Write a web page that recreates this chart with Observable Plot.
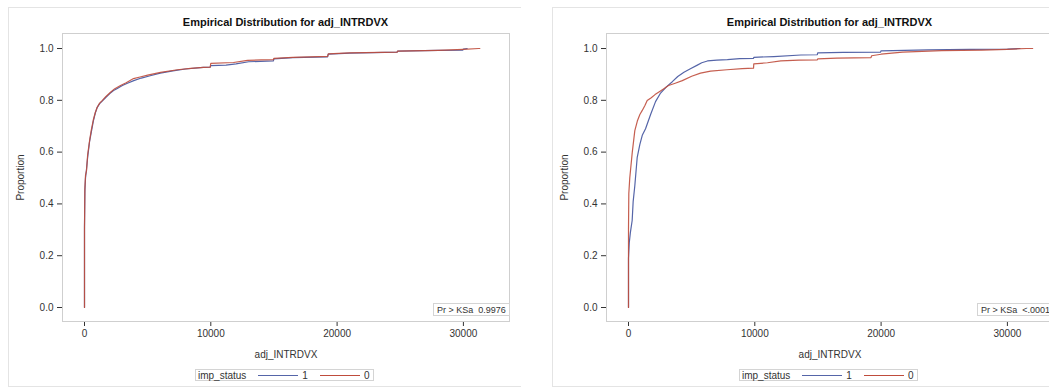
<!DOCTYPE html>
<html>
<head>
<meta charset="utf-8">
<script src="https://cdn.jsdelivr.net/npm/d3@7"></script>
<script src="https://cdn.jsdelivr.net/npm/@observablehq/plot@0.6"></script>
<style>
  html, body { margin: 0; padding: 0; background: #fff; }
  html { overflow: hidden; }
  body { width: 1049px; height: 388px; overflow: hidden; position: relative; font-family: "Liberation Sans", Arial, sans-serif; }
  .panel { position: absolute; top: 7px; height: 380px; border-top: 1px solid #e4e4e4; border-left: 1px solid #e4e4e4; border-bottom: 1px solid #e4e4e4; box-sizing: border-box; }
  .title { position: absolute; font-weight: bold; font-size: 11px; color: #111; white-space: nowrap; transform: translateX(-50%); }
  .chart { position: absolute; width: 512px; }
  .chart svg { max-width: none !important; }
  .legend { position: absolute; border: 1px solid #d4d4d4; height: 12px; font-size: 10px; color: #333; display: flex; align-items: center; padding: 0 4px 0 2px; box-sizing: border-box; white-space: nowrap; }
  .legend .sw { display: inline-block; width: 40px; height: 0; border-top: 1px solid; margin: 0 4px 0 12px; }
  .ks { position: absolute; border: 1px solid #d4d4d4; height: 13px; font-size: 9px; color: #333; display: flex; align-items: center; padding: 0 3px; box-sizing: border-box; white-space: pre; background: #fff; }
</style>
</head>
<body>
<script>
// ---- data ----
const titleText = "Empirical Distribution for adj_INTRDVX";
const xTicks = [0, 10000, 20000, 30000];
const yTicks = [0, 0.2, 0.4, 0.6, 0.8, 1.0];
const groups = ["1", "0"];
const ksLabels = ["Pr > KSa  0.9976", "Pr > KSa  <.0001"];

// Left panel, imp_status = 1
const leftX1 = [0, 0, 30, 80, 150, 250, 400, 550, 700, 850, 1000, 1200, 1400, 1700, 2000, 2300, 2600, 3000, 3400, 3900, 4500, 5200, 6000, 7000, 8000, 9400, 9950, 10000, 11200, 12000, 13000, 14950, 15000, 16500, 19250, 19300, 21000, 24750, 24800, 28000, 29950, 30000, 30300];
const leftP1 = [0, 0.31, 0.45, 0.50, 0.53, 0.58, 0.64, 0.68, 0.72, 0.75, 0.772, 0.787, 0.797, 0.812, 0.826, 0.838, 0.846, 0.857, 0.866, 0.876, 0.886, 0.895, 0.905, 0.914, 0.921, 0.927, 0.928, 0.934, 0.936, 0.941, 0.949, 0.952, 0.960, 0.965, 0.968, 0.978, 0.982, 0.986, 0.990, 0.993, 0.994, 0.998, 1.0];
// Left panel, imp_status = 0
const leftX0 = [0, 0, 30, 80, 160, 250, 420, 530, 700, 850, 1005, 1200, 1400, 1700, 2060, 2400, 2850, 3300, 3880, 4400, 5000, 6020, 7360, 8400, 9420, 9950, 10000, 11800, 12900, 14000, 14950, 15000, 16500, 19250, 19300, 21000, 24750, 24800, 28000, 30000, 31200, 31300];
const leftP0 = [0, 0.30, 0.46, 0.51, 0.529, 0.59, 0.65, 0.683, 0.725, 0.752, 0.773, 0.789, 0.799, 0.815, 0.831, 0.845, 0.857, 0.868, 0.884, 0.890, 0.897, 0.908, 0.918, 0.923, 0.927, 0.928, 0.943, 0.946, 0.954, 0.956, 0.957, 0.962, 0.966, 0.970, 0.979, 0.983, 0.986, 0.990, 0.993, 0.997, 1.0, 1.0];

// Right panel, imp_status = 1
const rightX1 = [0, 0, 60, 150, 290, 370, 500, 690, 900, 1090, 1350, 1750, 2140, 2540, 3000, 3470, 3900, 4390, 4900, 5450, 5800, 6250, 7000, 7830, 8800, 9900, 9920, 11500, 13650, 14950, 14980, 17000, 19950, 20000, 23700, 27000, 30000, 31000];
const rightP1 = [0, 0.19, 0.25, 0.29, 0.336, 0.41, 0.47, 0.58, 0.63, 0.665, 0.69, 0.745, 0.795, 0.828, 0.852, 0.872, 0.892, 0.908, 0.922, 0.936, 0.945, 0.952, 0.955, 0.957, 0.961, 0.962, 0.966, 0.969, 0.975, 0.976, 0.983, 0.985, 0.986, 0.991, 0.995, 0.997, 0.998, 1.0];
// Right panel, imp_status = 0
const rightX0 = [0, 0, 25, 100, 160, 300, 500, 700, 900, 1090, 1300, 1480, 1800, 2100, 2380, 2800, 3170, 3700, 4260, 5000, 5700, 6500, 7800, 9000, 9900, 9920, 11000, 12060, 13500, 14950, 14980, 16500, 19200, 19250, 20000, 21700, 24800, 28000, 30000, 31500, 32000];
const rightP0 = [0, 0.30, 0.44, 0.50, 0.53, 0.60, 0.683, 0.72, 0.745, 0.761, 0.78, 0.799, 0.81, 0.822, 0.831, 0.845, 0.857, 0.866, 0.876, 0.893, 0.905, 0.913, 0.918, 0.922, 0.924, 0.941, 0.945, 0.952, 0.955, 0.956, 0.960, 0.963, 0.965, 0.972, 0.978, 0.986, 0.992, 0.994, 0.997, 1.0, 1.0];

const blue = "#5565a8";
const red = "#bf4c3c";

function rows(xs, ps, g) { return xs.map((x, i) => ({x, p: ps[i], g})); }

function panel(left, x1, p1, x0, p0, ksText) {
  const p = document.createElement("div");
  p.className = "panel";
  p.style.left = left + "px";
  p.style.width = "513px";
  document.body.appendChild(p);

  const t = document.createElement("div");
  t.className = "title";
  t.textContent = titleText;
  t.style.left = (left + 54 + 223.5) + "px";
  t.style.top = "16px";
  document.body.appendChild(t);

  const chart = Plot.plot({
    width: 512,
    height: 336,
    marginLeft: 54,
    marginRight: 11,
    marginTop: 8,
    marginBottom: 40,
    style: { fontFamily: "'Liberation Sans', Arial, sans-serif", fontSize: "10px", color: "#333", background: "transparent", overflow: "visible", maxWidth: "none" },
    x: { domain: [-1742, 33650], ticks: xTicks, tickFormat: d => String(d), tickSize: 5, tickPadding: 3, label: "adj_INTRDVX", labelAnchor: "center", labelOffset: 36, labelArrow: "none" },
    y: { domain: [-0.054, 1.058], ticks: yTicks, tickFormat: d3.format(".1f"), tickSize: 5, tickPadding: 4, label: "Proportion", labelAnchor: "center", labelOffset: 46, labelArrow: "none" },
    color: { domain: groups, range: [blue, red] },
    marks: [
      Plot.frame({ stroke: "#cfcfcf" }),
      Plot.line(rows(x1, p1, "1"), { x: "x", y: "p", stroke: "g", strokeWidth: 1.2 }),
      Plot.line(rows(x0, p0, "0"), { x: "x", y: "p", stroke: "g", strokeWidth: 1.2, strokeOpacity: 0.9 })
    ]
  });
  const c = document.createElement("div");
  c.className = "chart";
  c.style.left = left + "px";
  c.style.top = "25px";
  c.appendChild(chart);
  document.body.appendChild(c);

  const ks = document.createElement("div");
  ks.className = "ks";
  ks.textContent = ksText;
  ks.style.left = (left + 425) + "px";
  ks.style.top = "303px";
  document.body.appendChild(ks);

  const lg = document.createElement("div");
  lg.className = "legend";
  lg.style.left = (left + 187) + "px";
  lg.style.top = "369px";
  lg.innerHTML = `<span>imp_status</span><span class="sw" style="border-color:${blue}"></span><span>${groups[0]}</span><span class="sw" style="border-color:${red}"></span><span>${groups[1]}</span>`;
  document.body.appendChild(lg);
}

panel(8, leftX1, leftP1, leftX0, leftP0, ksLabels[0]);
panel(552, rightX1, rightP1, rightX0, rightP0, ksLabels[1]);
</script>
</body>
</html>
